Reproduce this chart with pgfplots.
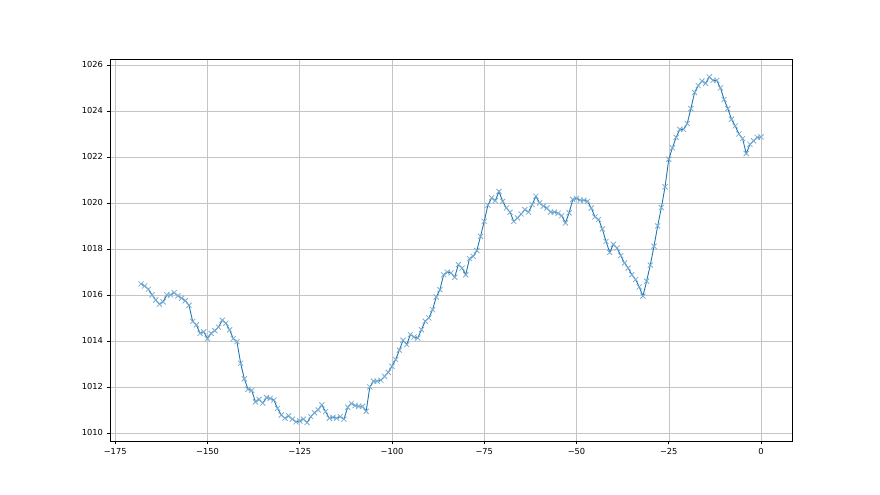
\documentclass[border=0pt]{standalone}
\usepackage{fontspec}
\setmainfont{DejaVu Sans}
\usepackage{pgfplots}
\usepackage{pgfplotstable}
\pgfplotsset{compat=1.18}
\definecolor{c0}{HTML}{1F77B4}
\definecolor{gridc}{HTML}{C4C4C4}
\pgfplotstableread{
x y
-168 1016.48
-167 1016.39
-166 1016.25
-165 1016.00
-164 1015.78
-163 1015.60
-162 1015.70
-161 1016.00
-160 1016.00
-159 1016.10
-158 1015.96
-157 1015.86
-156 1015.75
-155 1015.55
-154 1014.85
-153 1014.70
-152 1014.33
-151 1014.40
-150 1014.10
-149 1014.33
-148 1014.45
-147 1014.60
-146 1014.90
-145 1014.77
-144 1014.48
-143 1014.10
-142 1013.97
-141 1013.03
-140 1012.35
-139 1011.90
-138 1011.85
-137 1011.35
-136 1011.46
-135 1011.30
-134 1011.54
-133 1011.50
-132 1011.43
-131 1011.07
-130 1010.78
-129 1010.64
-128 1010.74
-127 1010.60
-126 1010.48
-125 1010.52
-124 1010.60
-123 1010.45
-122 1010.71
-121 1010.88
-120 1011.00
-119 1011.22
-118 1010.93
-117 1010.64
-116 1010.68
-115 1010.64
-114 1010.71
-113 1010.60
-112 1011.12
-111 1011.28
-110 1011.19
-109 1011.16
-108 1011.16
-107 1010.94
-106 1012.00
-105 1012.25
-104 1012.25
-103 1012.29
-102 1012.46
-101 1012.64
-100 1012.90
-99 1013.19
-98 1013.60
-97 1014.03
-96 1013.84
-95 1014.28
-94 1014.17
-93 1014.13
-92 1014.49
-91 1014.86
-90 1015.00
-89 1015.36
-88 1015.91
-87 1016.23
-86 1016.88
-85 1016.99
-84 1016.96
-83 1016.77
-82 1017.32
-81 1017.17
-80 1016.88
-79 1017.58
-78 1017.68
-77 1017.93
-76 1018.55
-75 1019.20
-74 1019.90
-73 1020.22
-72 1020.10
-71 1020.50
-70 1020.07
-69 1019.78
-68 1019.60
-67 1019.20
-66 1019.35
-65 1019.52
-64 1019.71
-63 1019.60
-62 1019.93
-61 1020.29
-60 1020.00
-59 1019.86
-58 1019.78
-57 1019.60
-56 1019.60
-55 1019.55
-54 1019.45
-53 1019.13
-52 1019.57
-51 1020.15
-50 1020.20
-49 1020.12
-48 1020.12
-47 1020.07
-46 1019.78
-45 1019.39
-44 1019.28
-43 1018.87
-42 1018.33
-41 1017.85
-40 1018.20
-39 1018.04
-38 1017.71
-37 1017.39
-36 1017.17
-35 1016.88
-34 1016.67
-33 1016.35
-32 1015.95
-31 1016.60
-30 1017.30
-29 1018.12
-28 1019.00
-27 1019.80
-26 1020.70
-25 1021.90
-24 1022.40
-23 1022.85
-22 1023.20
-21 1023.20
-20 1023.45
-19 1024.10
-18 1024.80
-17 1025.10
-16 1025.30
-15 1025.20
-14 1025.48
-13 1025.33
-12 1025.33
-11 1025.00
-10 1024.50
-9 1024.10
-8 1023.64
-7 1023.35
-6 1023.00
-5 1022.80
-4 1022.15
-3 1022.55
-2 1022.70
-1 1022.85
0 1022.87
}\pressure
\begin{document}
\begin{tikzpicture}[x=1bp,y=1bp]
\path[use as bounding box] (0,0) rectangle (880,495);
\begin{axis}[
  at={(110bp,54bp)}, anchor=south west,
  width=682bp, height=382bp, scale only axis,
  xmin=-176.4, xmax=8.4, ymin=1009.65, ymax=1026.26,
  xtick={-175,-150,-125,-100,-75,-50,-25,0},
  xticklabels={−175,−150,−125,−100,−75,−50,−25,0},
  ytick={1010,1012,1014,1016,1018,1020,1022,1024,1026},
  xtick pos=left, ytick pos=left,
  grid=major, grid style={color=gridc, line width=0.5bp},
  axis line style={line width=0.6bp, black},
  tick align=outside, major tick length=3.5bp,
  tick style={black, line width=0.6bp},
  ticklabel style={font=\fontsize{8.3}{10}\selectfont},
  /pgf/number format/assume math mode=true,
  /pgf/number format/set thousands separator={},
]
\addplot[c0, line width=0.9bp, mark=x, mark size=3.6bp,
  mark options={draw=c0!60!white, line width=0.8bp}] table[x=x, y=y] {\pressure};
\end{axis}
\end{tikzpicture}
\end{document}
